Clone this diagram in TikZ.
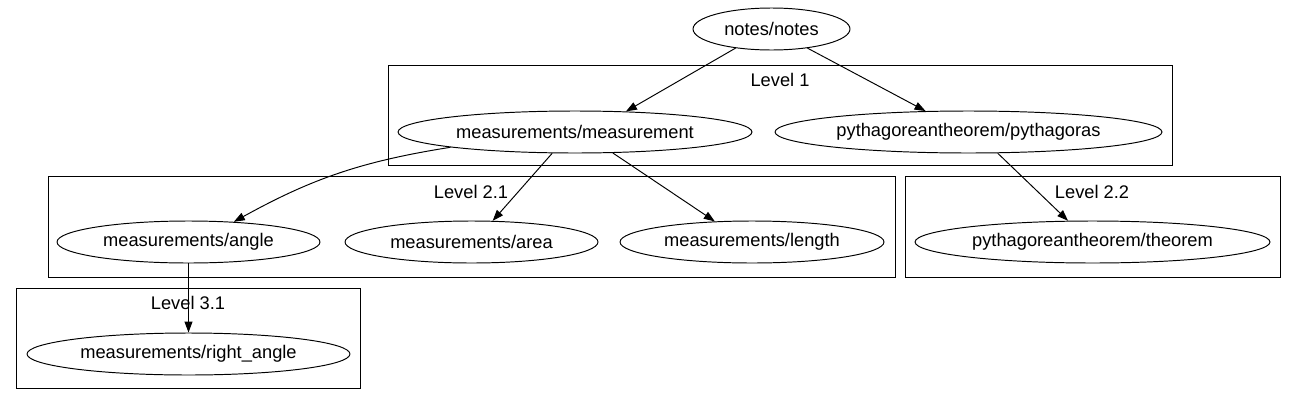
\documentclass[tikz,border=0pt]{standalone}
\usepackage{fontspec}
\setmainfont{Liberation Sans}
\usepackage{tikz}
\usetikzlibrary{shapes.geometric,arrows.meta}

\begin{document}
\begin{tikzpicture}[x=0.02cm,y=-0.02cm,line width=0.55pt,
	every node/.style={font=\fontsize{10.4pt}{12pt}\selectfont},
	ell/.style={draw,ellipse,inner sep=0pt,minimum height=0.84cm},
	edge/.style={-{Triangle[length=0.22cm,width=0.16cm]}}]
			\useasboundingbox (0,0) rectangle (1297,416);
			
			% clusters
			\draw (388,65) rectangle (1172,165);
			\node (lev1) at (780,80) {Level 1};
			\draw (48,176) rectangle (895,277);
			\node (lev21) at (471,192) {Level 2.1};
			\draw (905,176) rectangle (1280,277);
			\node (lev22) at (1092,192) {Level 2.2};
			\draw (16,288) rectangle (360,388);
			\node (lev31) at (188,303) {Level 3.1};
			
			% nodes
			\node[ell,minimum width=3.14cm] (notes) at (771.5,29) {notes/notes};
			\node[ell,minimum width=7.08cm] (meas) at (575,132) {measurements/measurement};
			\node[ell,minimum width=7.74cm] (pyth) at (968.5,132) {pythagoreantheorem/pythagoras};
			\node[ell,minimum width=5.26cm] (angle) at (188.5,242) {measurements/angle};
			\node[ell,minimum width=5.06cm] (area) at (471.5,242) {measurements/area};
			\node[ell,minimum width=5.28cm] (length) at (752,242) {measurements/length};
			\node[ell,minimum width=7.1cm] (theorem) at (1092.5,242) {pythagoreantheorem/theorem};
			\node[ell,minimum width=6.46cm] (rangle) at (188.5,354) {measurements/right\_angle};
			
			% edges
			\draw[edge] (notes.208) -- (meas.22);
			\draw[edge] (notes.332) -- (pyth.154);
			\draw[edge] (meas.187) to[bend right=10] (angle.24);
			\draw[edge] (meas.223) -- (area.45);
			\draw[edge] (meas.331) -- (length.151);
			\draw[edge] (pyth.324) -- (theorem.139);
			\draw[edge] (angle.south) -- (rangle.north);
		\end{tikzpicture}
\end{document}
